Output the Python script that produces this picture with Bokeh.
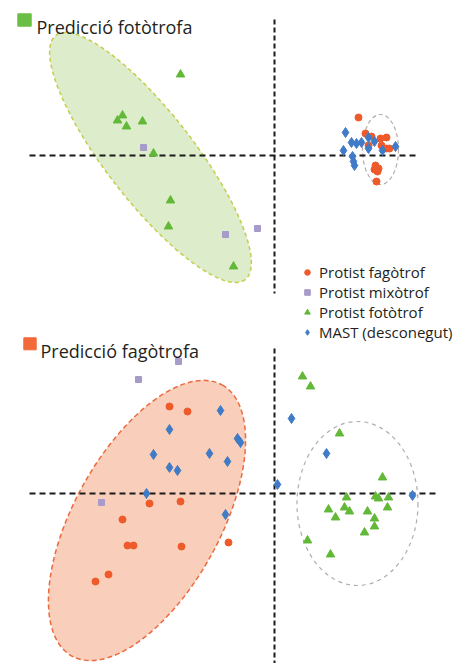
from bokeh.plotting import figure
from bokeh.models import Range1d, Legend, LegendItem, Label
from bokeh.embed import file_html
from bokeh.resources import INLINE

# ---------------- data (panel coordinates, origin at the crosshair) ----------------
# Top panel: "Predicció fotòtrofa"
top_fag_x = [84, 91, 97, 106, 112, 94, 107, 112, 115, 101, 104, 100, 103, 102]
top_fag_y = [38, 22, 19, 17, 18, 10, 10, 7, 7, -10, -13, -14, -16, -26]
top_mix_x = [-131, -49, -17]
top_mix_y = [8, -79, -73]
top_fot_x = [-94, -157, -152, -148, -132, -121, -104, -106, -41]
top_fot_y = [81, 35, 40, 29, 34, 2, -45, -71, -111]
top_mast_x = [71, 77, 82, 87, 94, 100, 94, 121, 69, 78, 79, 80, 108]
top_mast_y = [23, 13, 12, 13, 18, 14, 7, 9, 5, -1, -6, -10, 5]

# Bottom panel: "Predicció fagòtrofa"
bot_fag_x = [-105, -87, -125, -94, -152, -147, -141, -93, -46, -179, -166]
bot_fag_y = [87, 82, -10, -8, -26, -52, -52, -53, -49, -88, -81]
bot_mix_x = [-96, -136, -173]
bot_mix_y = [132, 114, -9]
bot_fot_x = [28, 36, 65, 108, 72, 101, 104, 114, 113, 54, 70, 75, 93, 61, 100, 100, 90, 33, 56]
bot_fot_y = [117, 107, 60, 16, -4, -3, -5, -4, -14, -16, -14, -18, -18, -24, -25, -33, -39, -47, -61]
bot_mast_x = [-54, -105, -37, -34, -121, -65, -47, -105, -97, -128, -49, 17, 3, 52, 138]
bot_mast_y = [83, 64, 55, 51, 39, 40, 32, 26, 23, 0, -21, 75, 9, 40, -2]

# confidence ellipses: x, y, width, height, angle(rad)
top_ell_pred = [-124, -2, 309, 88, -0.911]
top_ell_other = [106, 6, 36, 70, 0.0]
bot_ell_pred = [-127.5, -27, 310, 146, 1.065]
bot_ell_other = [83, -10, 121, 164, 0.0]

# crosshair extents
top_h = [-245, 143]
top_v = [136, -138]
bot_h = [-245, 161]
bot_v = [145, -180]

titles = ["Predicció fotòtrofa", "Predicció fagòtrofa"]
legend_labels = ["Protist fagòtrof", "Protist mixòtrof", "Protist fotòtrof", "MAST (desconegut)"]

C_FAG = "#EF5A2A"
C_MIX = "#A79CC9"
C_FOT = "#62B837"
C_MAST = "#3F7BC6"
FONT = "Open Sans"
TXT = "#231F20"

W, H = 457, 663
p = figure(width=W, height=H, x_range=Range1d(-274, W - 274), y_range=Range1d(155 - H, 155),
           output_backend="svg", toolbar_location=None,
           x_axis_location=None, y_axis_location=None, min_border=0)
p.extra_y_ranges = {"bot": Range1d(493 - H, 493)}
p.grid.visible = False
p.outline_line_color = None
p.background_fill_color = "white"
p.border_fill_color = "white"

# ellipses
p.ellipse(x=top_ell_pred[0], y=top_ell_pred[1], width=top_ell_pred[2], height=top_ell_pred[3],
          angle=top_ell_pred[4], fill_color="#DDECCB", line_color="#C3CF4A",
          line_dash="4 3", line_width=1.5)
p.ellipse(x=top_ell_other[0], y=top_ell_other[1], width=top_ell_other[2], height=top_ell_other[3],
          angle=top_ell_other[4], fill_color=None, line_color="#B4ACA6",
          line_dash="4 3", line_width=1.2)
p.ellipse(x=bot_ell_pred[0], y=bot_ell_pred[1], width=bot_ell_pred[2], height=bot_ell_pred[3],
          angle=bot_ell_pred[4], fill_color="#F9CFBB", line_color="#EC6A3E",
          line_dash="5 3", line_width=1.5, y_range_name="bot")
p.ellipse(x=bot_ell_other[0], y=bot_ell_other[1], width=bot_ell_other[2], height=bot_ell_other[3],
          angle=bot_ell_other[4], fill_color=None, line_color="#B4ACA6",
          line_dash="4 4", line_width=1.2, y_range_name="bot")

# crosshairs
p.segment(x0=top_h[0], y0=0, x1=top_h[1], y1=0, line_color="#1A1A1A", line_width=2, line_dash="6 4")
p.segment(x0=0, y0=top_v[0], x1=0, y1=top_v[1], line_color="#1A1A1A", line_width=2, line_dash="5 3")
p.segment(x0=bot_h[0], y0=0, x1=bot_h[1], y1=0, line_color="#1A1A1A", line_width=2, line_dash="6 4",
          y_range_name="bot")
p.segment(x0=0, y0=bot_v[0], x1=0, y1=bot_v[1], line_color="#1A1A1A", line_width=2, line_dash="5 3",
          y_range_name="bot")

# points: top
r_fag = p.scatter(top_fag_x, top_fag_y, marker="circle", size=7, color=C_FAG)
r_mix = p.scatter(top_mix_x, top_mix_y, marker="square", size=6, color=C_MIX)
r_fot = p.scatter(top_fot_x, top_fot_y, marker="triangle", size=8.5, color=C_FOT)
r_mast = p.scatter(top_mast_x, top_mast_y, marker="diamond", size=10, color=C_MAST)
# points: bottom
p.scatter(bot_fag_x, bot_fag_y, marker="circle", size=7, color=C_FAG, y_range_name="bot")
p.scatter(bot_mix_x, bot_mix_y, marker="square", size=6, color=C_MIX, y_range_name="bot")
p.scatter(bot_fot_x, bot_fot_y, marker="triangle", size=8.5, color=C_FOT, y_range_name="bot")
p.scatter(bot_mast_x, bot_mast_y, marker="diamond", size=10, color=C_MAST, y_range_name="bot")

# titles with coloured squares
p.quad(left=-256.7, right=-243.3, top=141.7, bottom=129.3, color="#6BBE45")
p.add_layout(Label(x=-238, y=128.3, text=titles[0], text_font=FONT, text_font_size="18px",
                   text_color=TXT, text_baseline="alphabetic"))
p.quad(left=-250.7, right=-238.3, top=155.7, bottom=143.7, color="#F26A3A", y_range_name="bot")
p.add_layout(Label(x=-234, y=143, text=titles[1], text_font=FONT, text_font_size="18px",
                   text_color=TXT, text_baseline="alphabetic", y_range_name="bot"))

legend = Legend(items=[LegendItem(label=legend_labels[0], renderers=[r_fag]),
                       LegendItem(label=legend_labels[1], renderers=[r_mix]),
                       LegendItem(label=legend_labels[2], renderers=[r_fot]),
                       LegendItem(label=legend_labels[3], renderers=[r_mast])],
                location=(300, 321), orientation="vertical",
                label_text_font=FONT, label_text_font_size="15px", label_text_color=TXT,
                glyph_width=14, glyph_height=20, label_height=20, label_standoff=5,
                spacing=0, padding=0, margin=0,
                border_line_color=None, background_fill_color=None)
p.add_layout(legend)

open("out.html", "w").write(file_html(p, INLINE))
